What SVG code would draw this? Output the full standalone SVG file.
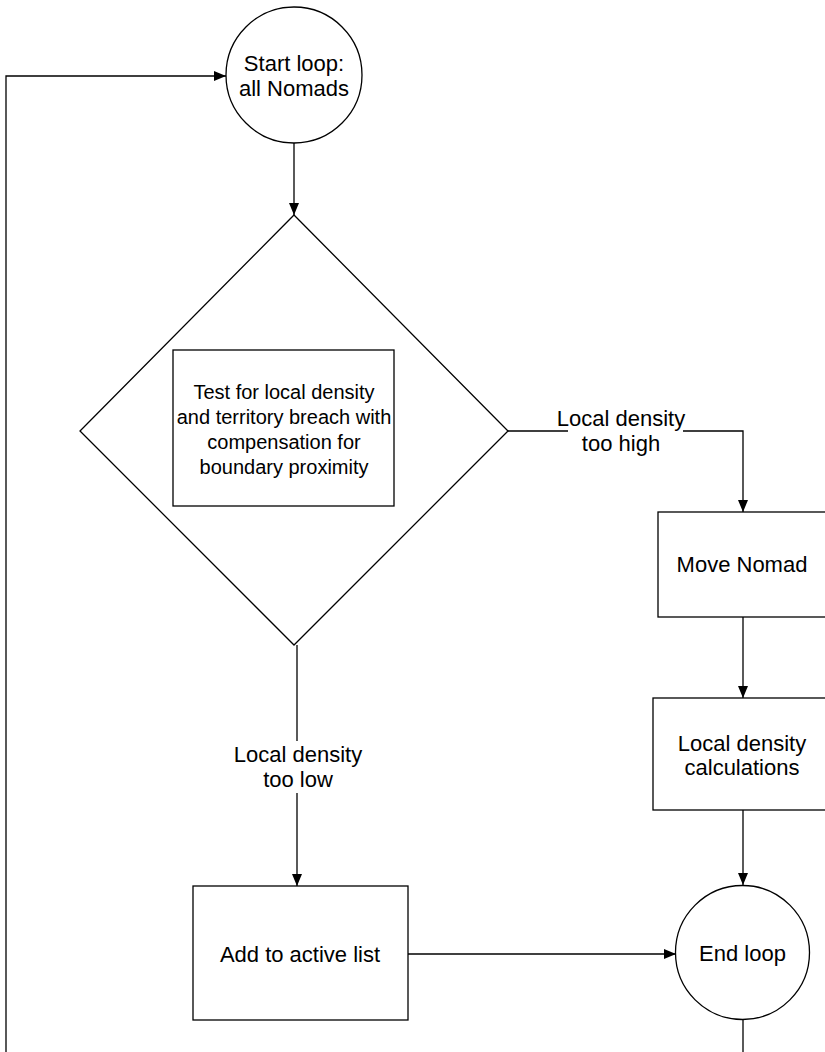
<svg xmlns="http://www.w3.org/2000/svg" width="825" height="1052" viewBox="0 0 825 1052">
<style>
.s{fill:#fff;stroke:#000;stroke-width:1.3}
.c{fill:none;stroke:#000;stroke-width:1.3}
text{font-family:"Liberation Sans",Arial,sans-serif;font-size:22px;fill:#000;text-anchor:middle;dominant-baseline:central}
.t{font-size:20px}
</style>
<defs>
<marker id="a" viewBox="0 0 12 10" refX="12" refY="5" markerWidth="12" markerHeight="10" markerUnits="userSpaceOnUse" orient="auto">
<path d="M0,0 L12,5 L0,10 z" fill="#000"/>
</marker>
</defs>
<rect width="825" height="1052" fill="#fff"/>
<g id="connectors">
<path class="c" d="M6,1052 V76 H226" marker-end="url(#a)"/>
<path class="c" d="M294,143 V215" marker-end="url(#a)"/>
<path class="c" d="M508,431 H743 V512" marker-end="url(#a)"/>
<path class="c" d="M743,617 V698" marker-end="url(#a)"/>
<path class="c" d="M743,810 V885" marker-end="url(#a)"/>
<path class="c" d="M297,645 V886" marker-end="url(#a)"/>
<path class="c" d="M408,954 H676" marker-end="url(#a)"/>
<path class="c" d="M743,1020 V1052"/>
<g id="label-high">
<rect x="568" y="406" width="115" height="50" fill="#fff"/>
<text x="621" y="418">Local density</text>
<text x="621" y="443">too high</text>
</g>
<g id="label-low">
<rect x="238" y="741" width="120" height="52" fill="#fff"/>
<text x="298" y="754">Local density</text>
<text x="298" y="779">too low</text>
</g>
</g>
<g id="start">
<circle class="s" cx="294" cy="75" r="68"/>
<text x="294" y="63">Start loop:</text>
<text x="294" y="88">all Nomads</text>
</g>
<g id="test">
<path class="s" d="M294,215 L508,431 L294,645 L80,431 z"/>
<rect class="s" x="173" y="350" width="221" height="156"/>
<text class="t" x="284" y="392">Test for local density</text>
<text class="t" x="284" y="417">and territory breach with</text>
<text class="t" x="284" y="442">compensation for</text>
<text class="t" x="284" y="467">boundary proximity</text>
</g>
<g id="move">
<rect class="s" x="658" y="512" width="170" height="105"/>
<text x="742" y="564">Move Nomad</text>
</g>
<g id="calc">
<rect class="s" x="653" y="698" width="180" height="112"/>
<text x="742" y="743">Local density</text>
<text x="742" y="767">calculations</text>
</g>
<g id="add">
<rect class="s" x="193" y="886" width="215" height="134"/>
<text x="300" y="954">Add to active list</text>
</g>
<g id="end">
<circle class="s" cx="742.5" cy="952.5" r="67"/>
<text x="742.5" y="953">End loop</text>
</g>
</svg>
